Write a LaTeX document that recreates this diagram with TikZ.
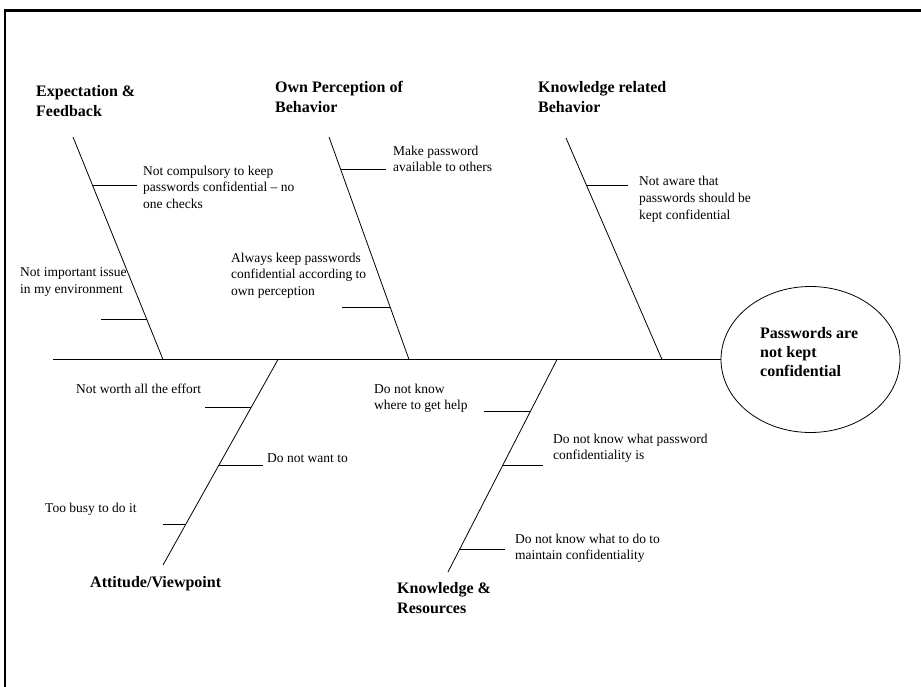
\documentclass[tikz,border=0pt]{standalone}
\usepackage{fontspec}
\setmainfont{Liberation Serif}
\usetikzlibrary{shapes.geometric,calc}
\begin{document}
\begin{tikzpicture}[x=1pt,y=-1pt,
  bone/.style={line width=0.8pt,black},
  cause/.style={anchor=north west,inner sep=0pt,align=left,font=\fontsize{13.5}{16.5}\selectfont},
  causewide/.style={cause,font=\fontsize{13.5}{17}\selectfont},
  catlabel/.style={anchor=north west,inner sep=0pt,align=left,font=\fontsize{16}{19.5}\selectfont\bfseries},
  headshape/.style={ellipse,draw,line width=0.8pt,minimum width=179pt,minimum height=146pt,inner sep=0pt}]
\useasboundingbox (0,0) rectangle (921,687);
% frame
\draw[line width=2.4pt] (4.8,700) -- (4.8,10.5) -- (935,10.5);
% head
\node[headshape] (head) at (810.5,359.5) {};
\node[catlabel,font=\fontsize{16}{19}\selectfont\bfseries] (headtext) at (760,327.1) {Passwords are\\not kept\\confidential};
% spine
\coordinate (tail) at (53,359.5);
\draw[bone] (tail) -- (head.west);
% bone ends
\coordinate (b1t) at (73,137);  \coordinate (b1b) at (163,359.5);
\coordinate (b2t) at (329,137); \coordinate (b2b) at (409,359.5);
\coordinate (b3t) at (566,138); \coordinate (b3b) at (662,359.5);
\coordinate (b4t) at (278,359.5); \coordinate (b4b) at (163,565);
\coordinate (b5t) at (557,359.5); \coordinate (b5b) at (448,572);
\draw[bone] (b1t) -- (b1b);
\draw[bone] (b2t) -- (b2b);
\draw[bone] (b3t) -- (b3b);
\draw[bone] (b4t) -- (b4b);
\draw[bone] (b5t) -- (b5b);
% ribs: points on bones and free ends
\coordinate (r1a) at (92.5,185);  \coordinate (r1e) at (137,185);
\coordinate (r2a) at (146.8,319); \coordinate (r2e) at (101,319);
\coordinate (r3a) at (340.5,169); \coordinate (r3e) at (386,169);
\coordinate (r4a) at (390,307);   \coordinate (r4e) at (342,307);
\coordinate (r5a) at (586.4,185); \coordinate (r5e) at (628,185);
\coordinate (r6a) at (251.2,407); \coordinate (r6e) at (205,407);
\coordinate (r7a) at (218.8,465); \coordinate (r7e) at (263,465);
\coordinate (r8a) at (185.9,524); \coordinate (r8e) at (163,524);
\coordinate (r9a) at (530.4,411); \coordinate (r9e) at (484,411);
\coordinate (r10a) at (502.8,465); \coordinate (r10e) at (543,465);
\coordinate (r11a) at (459.8,549); \coordinate (r11e) at (505,549);
\foreach \i in {1,...,11} {\draw[bone] (r\i a) -- (r\i e);}
% category labels
\node[catlabel] (cat1) at (36,85.5) {Expectation \&\\Feedback};
\node[catlabel] (cat2) at (275,81.2) {Own Perception of\\Behavior};
\node[catlabel] (cat3) at (538,81.2) {Knowledge related\\Behavior};
\node[catlabel] (cat4) at (90,576.2) {Attitude/Viewpoint};
\node[catlabel,font=\fontsize{16}{20}\selectfont\bfseries] (cat5) at (397,582.2) {Knowledge \&\\Resources};
% causes
\node[cause] (c1) at (143,165.8) {Not compulsory to keep\\passwords confidential -- no\\one checks};
\node[cause] (c2) at (20,267.8) {Not important issue\\in my environment};
\node[cause] (c3) at (393,145.8) {Make password\\available to others};
\node[cause] (c4) at (231,252.8) {Always keep passwords\\confidential according to\\own perception};
\node[causewide] (c5) at (639,175.8) {Not aware that\\passwords should be\\kept confidential};
\node[cause] (c6) at (76,383.8) {Not worth all the effort};
\node[cause] (c7) at (267,453.8) {Do not want to};
\node[cause] (c8) at (45,502.8) {Too busy to do it};
\node[cause] (c9) at (374,383.8) {Do not know\\where to get help};
\node[cause] (c10) at (553,433.8) {Do not know what password\\confidentiality is};
\node[cause] (c11) at (515,533.8) {Do not know what to do to\\maintain confidentiality};
\end{tikzpicture}
\end{document}
